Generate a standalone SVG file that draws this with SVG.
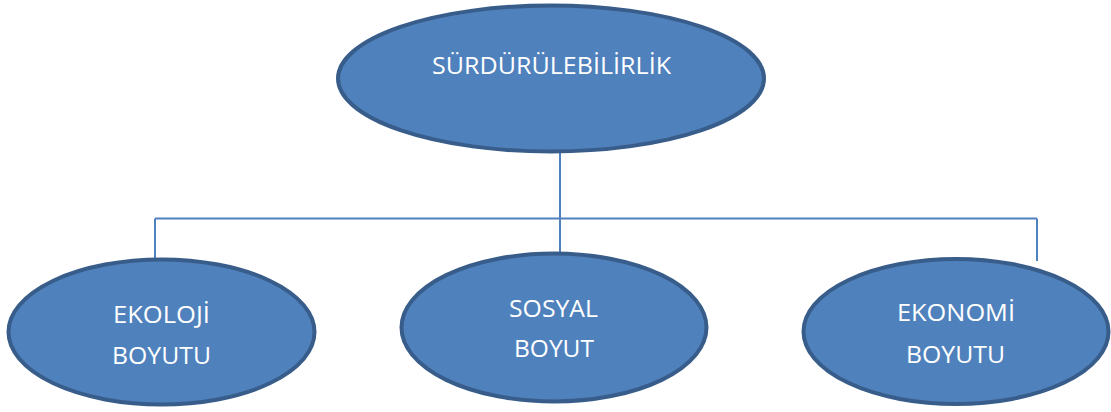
<svg xmlns="http://www.w3.org/2000/svg" width="1111" height="412" viewBox="0 0 1111 412">
  <style>
    .node { fill: #4F81BD; stroke: #385D8A; stroke-width: 4; }
    .label { font-family: "Open Sans", "Liberation Sans", sans-serif; font-size: 23px; fill: #FFFFFF; text-anchor: middle; }
    .conn { fill: none; stroke: #4F81BD; stroke-width: 2; }
  </style>
  <rect width="1111" height="412" fill="#FFFFFF"/>

  <!-- connectors -->
  <g id="connectors">
    <path class="conn" d="M560,152 V253"/>
    <path class="conn" d="M155,218.5 H1037"/>
    <path class="conn" d="M155,218.5 V260"/>
    <path class="conn" d="M1037,218.5 V261"/>
  </g>

  <!-- root -->
  <g id="root">
    <ellipse class="node" cx="551" cy="78.5" rx="213" ry="73"/>
    <text class="label" x="551.5" y="74" textLength="239" lengthAdjust="spacingAndGlyphs">SÜRDÜRÜLEBİLİRLİK</text>
  </g>

  <g id="ekoloji">
    <ellipse class="node" cx="161.5" cy="332" rx="153" ry="72.5"/>
    <text class="label" x="161.5" y="323" textLength="97" lengthAdjust="spacingAndGlyphs">EKOLOJİ</text>
    <text class="label" x="161.5" y="364" textLength="99" lengthAdjust="spacingAndGlyphs">BOYUTU</text>
  </g>

  <g id="sosyal">
    <ellipse class="node" cx="554" cy="327.5" rx="152.5" ry="74"/>
    <text class="label" x="553.5" y="317" textLength="89" lengthAdjust="spacingAndGlyphs">SOSYAL</text>
    <text class="label" x="554" y="357" textLength="80" lengthAdjust="spacingAndGlyphs">BOYUT</text>
  </g>

  <g id="ekonomi">
    <ellipse class="node" cx="956" cy="331.5" rx="152.5" ry="72.5"/>
    <text class="label" x="956" y="321" textLength="118" lengthAdjust="spacingAndGlyphs">EKONOMİ</text>
    <text class="label" x="955.5" y="363" textLength="99" lengthAdjust="spacingAndGlyphs">BOYUTU</text>
  </g>
</svg>
